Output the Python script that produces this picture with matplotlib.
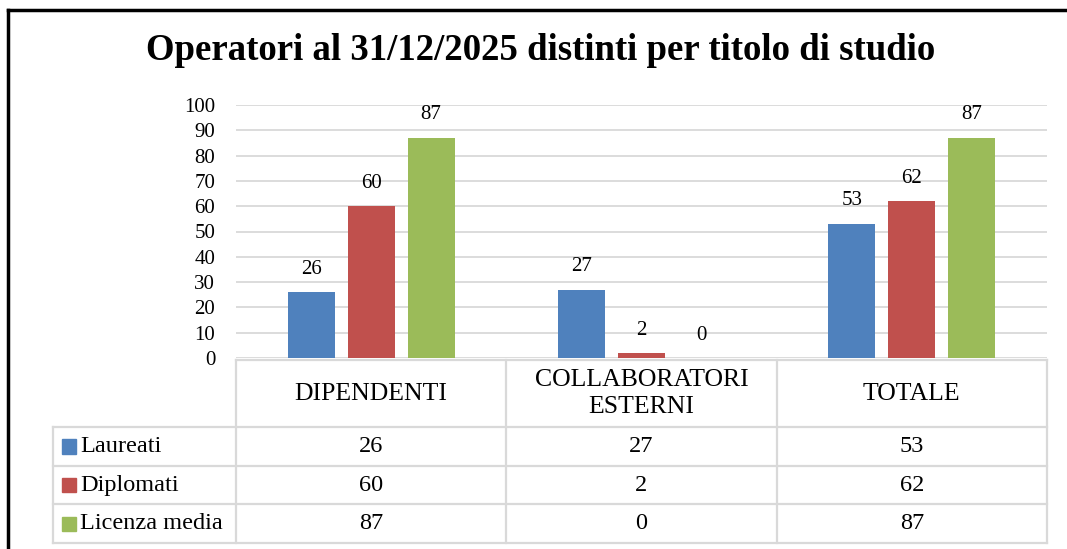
import numpy as np
import matplotlib.pyplot as plt
from matplotlib.lines import Line2D
from matplotlib.patches import Rectangle

# Data
categories = ['DIPENDENTI', 'COLLABORATORI\nESTERNI', 'TOTALE']
series = ['Laureati', 'Diplomati', 'Licenza media']
laureati = [26, 27, 53]
diplomati = [60, 2, 62]
licenza_media = [87, 0, 87]
colors = ['#4f81bd', '#c0504d', '#9bbb59']
yticks = [0, 10, 20, 30, 40, 50, 60, 70, 80, 90, 100]

values = [laureati, diplomati, licenza_media]

plt.rcParams['font.family'] = ['Liberation Serif', 'DejaVu Serif']
W, H = 1067, 549
fig = plt.figure(figsize=(W / 100, H / 100), dpi=100)

def px_rect(x0, y0, x1, y1):
    # pixel box (top-left origin) -> figure fraction
    return [x0 / W, 1 - y1 / H, (x1 - x0) / W, (y1 - y0) / H]

# frame of the screenshot
fig.add_artist(Line2D([8 / W, 1], [1 - 10 / H, 1 - 10 / H], color='black', lw=2.5))
fig.add_artist(Line2D([8 / W, 8 / W], [0, 1 - 10 / H], color='black', lw=2.5))

fig.text(541 / W, 1 - 51 / H, 'Operatori al 31/12/2025 distinti per titolo di studio',
         ha='center', va='center', fontsize=26.5, fontweight='bold')

# bar chart
ax = fig.add_axes(px_rect(236, 105, 1047, 358))
x = np.arange(len(categories))
bw = 0.174
step = 0.222
for i, (name, vals) in enumerate(zip(series, values)):
    pos = x + (i - 1) * step
    ax.bar(pos, vals, width=bw, color=colors[i], zorder=3)
    for p, v in zip(pos, vals):
        ax.annotate(str(v), (p, v), xytext=(0, 16.5), textcoords='offset points',
                    ha='center', va='center', fontsize=15, zorder=4)

ax.set_xlim(-0.5, len(categories) - 0.5)
ax.set_ylim(0, 100)
ax.set_yticks(yticks)
ax.set_xticks([])
ax.grid(axis='y', color='#d9d9d9', lw=1.3, zorder=0)
ax.tick_params(axis='y', length=0, pad=15, labelsize=15)
for s in ax.spines.values():
    s.set_visible(False)

# data table below the chart
cat_px = (1047 - 236) / len(categories)
left_units = (236 - 53) / cat_px
tab = fig.add_axes(px_rect(53, 360, 1047, 543))
tab.set_xlim(-0.5 - left_units, len(categories) - 0.5)
row_h = [67, 38.5, 38.5, 38.5]
total_h = sum(row_h)
tab.set_ylim(total_h, 0)
tab.axis('off')

edges = np.concatenate([[0], np.cumsum(row_h)])
gc = '#d9d9d9'
lw = 1.6
# horizontal lines
for k, yy in enumerate(edges):
    xs = -0.5 if k == 0 else -0.5 - left_units
    tab.plot([xs, len(categories) - 0.5], [yy, yy], color=gc, lw=lw, clip_on=False)
# vertical lines
tab.plot([-0.5 - left_units] * 2, [edges[1], edges[-1]], color=gc, lw=lw, clip_on=False)
for c in range(len(categories) + 1):
    tab.plot([c - 0.5] * 2, [0, edges[-1]], color=gc, lw=lw, clip_on=False)

for c, cat in enumerate(categories):
    tab.text(c, row_h[0] / 2, cat, ha='center', va='center', fontsize=18.5, linespacing=1.3)

sq_w = 14 / cat_px
for r, (name, vals) in enumerate(zip(series, values)):
    yc = (edges[r + 1] + edges[r + 2]) / 2
    x0 = -0.5 - left_units + 9 / cat_px
    tab.add_patch(Rectangle((x0, yc - 7), sq_w, 14, color=colors[r], clip_on=False))
    tab.text(x0 + sq_w + 4 / cat_px, yc, name, ha='left', va='center', fontsize=17.5)
    for c, v in enumerate(vals):
        tab.text(c, yc, str(v), ha='center', va='center', fontsize=17.5)

fig.savefig('out.png', dpi=100)
